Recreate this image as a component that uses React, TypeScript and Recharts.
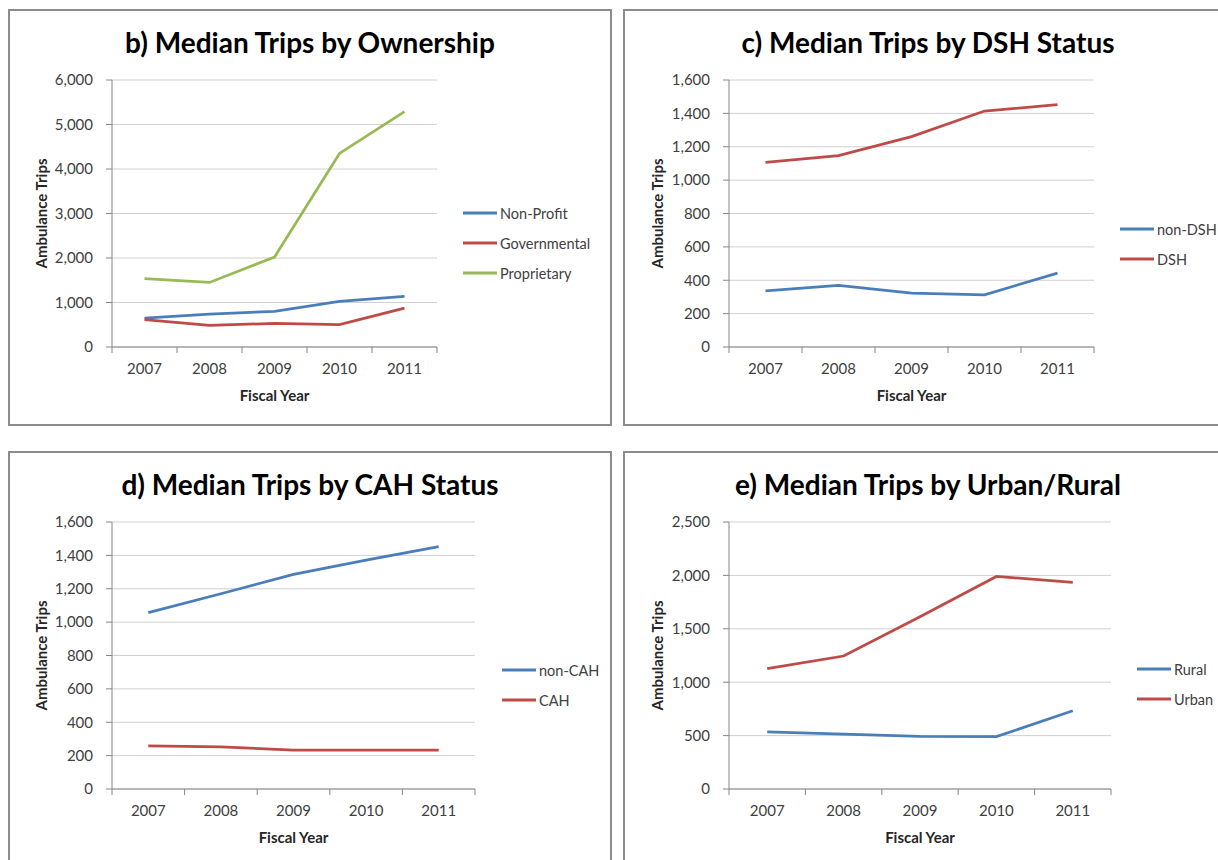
import React from "react";

//recharts
import { LineChart, Line, XAxis, YAxis, CartesianGrid, Legend, Label } from "recharts";

//data
const years = ["2007", "2008", "2009", "2010", "2011"];

// b) ownership
const nonProfit = [650, 740, 800, 1025, 1137];
const governmental = [613, 486, 530, 501, 875];
const proprietary = [1534, 1451, 2020, 4350, 5289];
const ownershipTicks = [0, 1000, 2000, 3000, 4000, 5000, 6000];

// c) DSH status
const nonDsh = [337, 369, 323, 313, 443];
const dsh = [1107, 1147, 1261, 1414, 1452];
const dshTicks = [0, 200, 400, 600, 800, 1000, 1200, 1400, 1600];

// d) CAH status
const nonCah = [1057, 1170, 1286, 1372, 1452];
const cah = [258, 252, 233, 233, 233];
const cahTicks = [0, 200, 400, 600, 800, 1000, 1200, 1400, 1600];

// e) urban / rural
const rural = [535, 513, 492, 490, 733];
const urban = [1127, 1245, 1613, 1990, 1935];
const urbanTicks = [0, 500, 1000, 1500, 2000, 2500];

//styles
const FONT = "Lato, 'Open Sans', sans-serif";
const BLUE = "#4a7ebb";
const RED = "#be4b48";
const GREEN = "#98b954";
const AXIS = "#868686";
const GRID = "#d0d0d0";
const TEXT = "#404040";

//ts
interface ISeries {
  key: string;
  name: string;
  color: string;
  values: number[];
}

interface IPanel {
  title: string;
  left: number;
  top: number;
  width: number;
  height: number;
  plotLeft: number;
  plotTop: number;
  plotRight: number;
  plotBottom: number;
  ticks: number[];
  series: ISeries[];
  legendLeft: number;
  legendTop: number;
  yLabelX: number;
}

const panels: IPanel[] = [
  {
    title: "b) Median Trips by Ownership",
    left: 8, top: 9, width: 604, height: 417,
    plotLeft: 104, plotTop: 71, plotRight: 429, plotBottom: 338,
    ticks: ownershipTicks,
    series: [
      { key: "np", name: "Non-Profit", color: BLUE, values: nonProfit },
      { key: "gov", name: "Governmental", color: RED, values: governmental },
      { key: "prop", name: "Proprietary", color: GREEN, values: proprietary },
    ],
    legendLeft: 455, legendTop: 189, yLabelX: 33,
  },
  {
    title: "c) Median Trips by DSH Status",
    left: 623, top: 9, width: 610, height: 417,
    plotLeft: 106, plotTop: 71, plotRight: 471, plotBottom: 338,
    ticks: dshTicks,
    series: [
      { key: "ndsh", name: "non-DSH", color: BLUE, values: nonDsh },
      { key: "dsh", name: "DSH", color: RED, values: dsh },
    ],
    legendLeft: 497, legendTop: 205, yLabelX: 34,
  },
  {
    title: "d) Median Trips by CAH Status",
    left: 8, top: 451, width: 604, height: 420,
    plotLeft: 104, plotTop: 71, plotRight: 467, plotBottom: 338,
    ticks: cahTicks,
    series: [
      { key: "ncah", name: "non-CAH", color: BLUE, values: nonCah },
      { key: "cah", name: "CAH", color: RED, values: cah },
    ],
    legendLeft: 494, legendTop: 204, yLabelX: 33,
  },
  {
    title: "e) Median Trips by Urban/Rural",
    left: 623, top: 451, width: 610, height: 420,
    plotLeft: 106, plotTop: 71, plotRight: 488, plotBottom: 338,
    ticks: urbanTicks,
    series: [
      { key: "rural", name: "Rural", color: BLUE, values: rural },
      { key: "urban", name: "Urban", color: RED, values: urban },
    ],
    legendLeft: 514, legendTop: 203, yLabelX: 34,
  },
];

const Y_WIDTH = 60;
const X_HEIGHT = 30;

const ChartPanel = ({ p }: { p: IPanel }) => {
  const data = years.map((year, i) => {
    const row: Record<string, string | number> = { year };
    p.series.forEach((s) => (row[s.key] = s.values[i]));
    return row;
  });
  const band = (p.plotRight - p.plotLeft) / years.length;

  const renderXTick = (props: any) => {
    const { x, y, payload, index } = props;
    return (
      <g>
        <line x1={x - band / 2} x2={x - band / 2} y1={y} y2={y + 6} stroke={AXIS} />
        {index === years.length - 1 && (
          <line x1={x + band / 2} x2={x + band / 2} y1={y} y2={y + 6} stroke={AXIS} />
        )}
        <text x={x} y={y + 27} textAnchor="middle" fill={TEXT} fontSize={15} fontFamily={FONT}>
          {payload.value}
        </text>
      </g>
    );
  };

  return (
    <div style={{ position: "absolute", left: p.left, top: p.top, width: p.width, height: p.height }}>
      <div
        style={{
          position: "absolute",
          inset: 0,
          border: "2px solid #8c8c8c",
          boxSizing: "border-box",
        }}
      />
      <div
        style={{
          position: "absolute",
          left: 0,
          top: 17,
          width: p.width,
          textAlign: "center",
          fontFamily: FONT,
          fontWeight: 700,
          fontSize: 28,
          lineHeight: "32px",
          color: "#000",
        }}
      >
        {p.title}
      </div>
      <div style={{ position: "absolute", left: 0, top: 0 }}>
        <LineChart
          width={p.width}
          height={p.height}
          data={data}
          margin={{
            top: p.plotTop,
            left: p.plotLeft - Y_WIDTH,
            right: p.width - p.plotRight,
            bottom: p.height - p.plotBottom - X_HEIGHT,
          }}
        >
          <CartesianGrid vertical={false} stroke={GRID} />
          <XAxis
            dataKey="year"
            height={X_HEIGHT}
            padding={{ left: band / 2, right: band / 2 }}
            axisLine={{ stroke: AXIS }}
            tickLine={false}
            tickSize={0}
            tickMargin={0}
            interval={0}
            tick={renderXTick}
          >
            <Label
              content={(lp: any) => {
                const vb = lp.viewBox;
                return (
                  <text
                    x={vb.x + vb.width / 2}
                    y={vb.y + 54}
                    textAnchor="middle"
                    fontFamily={FONT}
                    fontWeight={700}
                    fontSize={15}
                    fill="#262626"
                  >
                    Fiscal Year
                  </text>
                );
              }}
            />
          </XAxis>
          <YAxis
            width={Y_WIDTH}
            domain={[0, p.ticks[p.ticks.length - 1]]}
            ticks={p.ticks}
            interval={0}
            axisLine={{ stroke: AXIS }}
            tickLine={{ stroke: AXIS }}
            tickSize={6}
            tickMargin={13}
            tick={{ fill: TEXT, fontSize: 15, fontFamily: FONT }}
            tickFormatter={(v: number) => v.toLocaleString("en-US")}
          >
            <Label
              content={(lp: any) => {
                const vb = lp.viewBox;
                const cx = p.yLabelX;
                const cy = vb.y + vb.height / 2;
                return (
                  <text
                    x={cx}
                    y={cy}
                    transform={`rotate(-90 ${cx} ${cy})`}
                    textAnchor="middle"
                    dominantBaseline="central"
                    fontFamily={FONT}
                    fontWeight={700}
                    fontSize={15}
                    fill="#262626"
                  >
                    Ambulance Trips
                  </text>
                );
              }}
            />
          </YAxis>
          <Legend
            layout="vertical"
            align="center"
            verticalAlign="middle"
            wrapperStyle={{ left: p.legendLeft, top: p.legendTop, width: "auto", height: "auto" }}
            content={() => (
              <div>
                {p.series.map((s) => (
                  <div key={s.key} style={{ display: "flex", alignItems: "center", height: 30 }}>
                    <svg width={34} height={4}>
                      <line x1={0} x2={34} y1={2} y2={2} stroke={s.color} strokeWidth={3} />
                    </svg>
                    <span
                      style={{
                        marginLeft: 3,
                        fontSize: 14.5,
                        fontFamily: FONT,
                        color: TEXT,
                        whiteSpace: "nowrap",
                      }}
                    >
                      {s.name}
                    </span>
                  </div>
                ))}
              </div>
            )}
          />
          {p.series.map((s) => (
            <Line
              key={s.key}
              type="linear"
              dataKey={s.key}
              name={s.name}
              stroke={s.color}
              strokeWidth={2.75}
              dot={false}
              activeDot={false}
              isAnimationActive={false}
            />
          ))}
        </LineChart>
      </div>
    </div>
  );
};

const App = () => {
  return (
    <div
      style={{
        position: "fixed",
        left: 0,
        top: 0,
        width: 1218,
        height: 860,
        overflow: "hidden",
        background: "#fff",
      }}
    >
      {panels.map((p) => (
        <ChartPanel key={p.title} p={p} />
      ))}
    </div>
  );
};

export default App;
